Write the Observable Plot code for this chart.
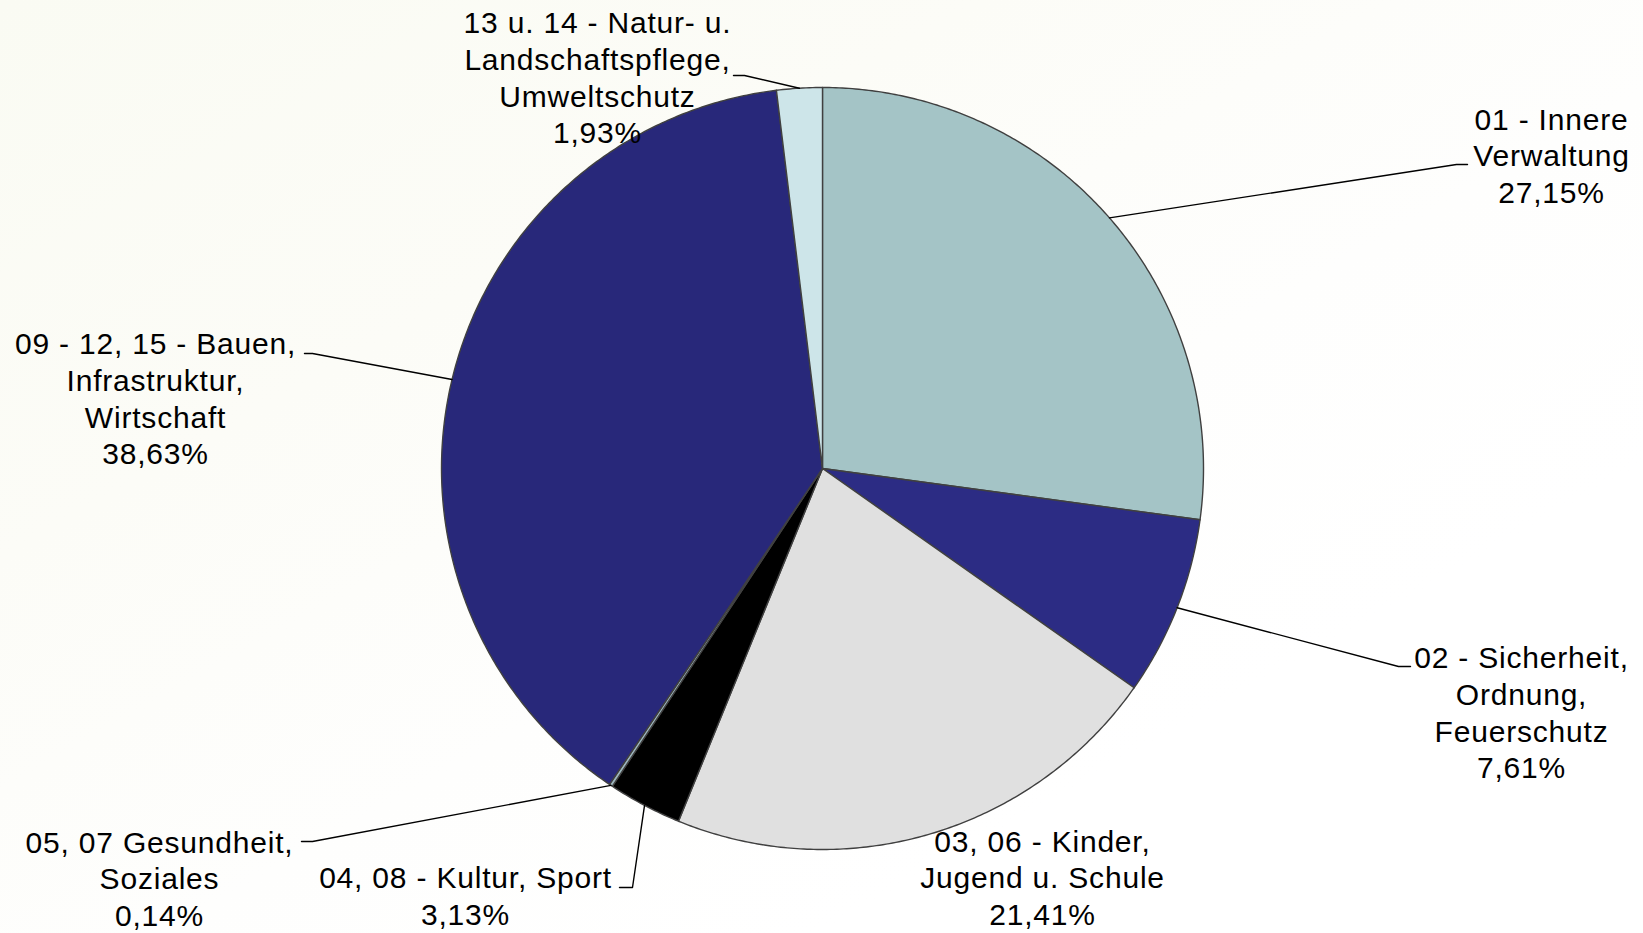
<!DOCTYPE html>
<html>
<head>
<meta charset="utf-8">
<script src="https://cdn.jsdelivr.net/npm/d3@7"></script>
<script src="https://cdn.jsdelivr.net/npm/@observablehq/plot@0.6"></script>
<style>
  html, body { margin: 0; padding: 0; width: 1643px; height: 933px; overflow: hidden;
    background: linear-gradient(to bottom right, #fafbf3 0%, #fcfcf7 30%, #fefefd 55%, #ffffff 75%); }
  #chart svg { display: block; }
</style>
</head>
<body>
<div id="chart"></div>
<script>
// ---- data ----
const categories = [
  "01 - Innere Verwaltung",
  "02 - Sicherheit, Ordnung, Feuerschutz",
  "03, 06 - Kinder, Jugend u. Schule",
  "04, 08 - Kultur, Sport",
  "05, 07 Gesundheit, Soziales",
  "09 - 12, 15 - Bauen, Infrastruktur, Wirtschaft",
  "13 u. 14 - Natur- u. Landschaftspflege, Umweltschutz"
];
const labelLines = [
  "01 - Innere\nVerwaltung",
  "02 - Sicherheit,\nOrdnung,\nFeuerschutz",
  "03, 06 - Kinder,\nJugend u. Schule",
  "04, 08 - Kultur, Sport",
  "05, 07 Gesundheit,\nSoziales",
  "09 - 12, 15 - Bauen,\nInfrastruktur,\nWirtschaft",
  "13 u. 14 - Natur- u.\nLandschaftspflege,\nUmweltschutz"
];
const values = [27.15, 7.61, 21.41, 3.13, 0.14, 38.63, 1.93];
const colors = ["#a4c4c6", "#2c2c84", "#e0e0e0", "#000000", "#9db6bd", "#28287a", "#cde5e9"];

// ---- layout (pixels) ----
const W = 1643, H = 933, CX = 822, CY = 468, R = 381;
const labelPos = [[1551, 154], [1521, 711], [1042, 876], [465, 894], [159, 877], [155, 397], [597, 76]];
const elbows = [
  [[1456, 164], [1467, 164]],
  [[1398, 666], [1410, 666]],
  null,
  [[632, 887], [619, 887]],
  [[312, 841], [301, 841]],
  [[312, 353], [304, 353]],
  [[744, 75], [733, 75]]
];
const toX = px => (px - CX) / R;
const toY = py => (CY - py) / R;

const arcs = d3.pie().sort(null).value(d => d)(values);

const sliceMarks = arcs.map((a, i) => {
  const n = Math.max(2, Math.ceil((a.endAngle - a.startAngle) / (Math.PI / 360)));
  const pts = [{x: 0, y: 0}];
  for (let k = 0; k <= n; k++) {
    const t = a.startAngle + (a.endAngle - a.startAngle) * k / n;
    pts.push({x: Math.sin(t), y: Math.cos(t)});
  }
  return Plot.line(pts, {
    x: "x", y: "y", fill: colors[i], stroke: "#404040", strokeWidth: 1.4,
    curve: "linear-closed", strokeLinejoin: "round"
  });
});

const leaderPts = [];
arcs.forEach((a, i) => {
  if (!elbows[i]) return;
  const m = (a.startAngle + a.endAngle) / 2;
  leaderPts.push({i, x: Math.sin(m), y: Math.cos(m)});
  for (const [px, py] of elbows[i]) leaderPts.push({i, x: toX(px), y: toY(py)});
});

const labels = values.map((v, i) => ({
  x: toX(labelPos[i][0]),
  y: toY(labelPos[i][1]),
  text: labelLines[i] + "\n" + v.toFixed(2).replace(".", ",") + "%"
}));

const chart = Plot.plot({
  width: W, height: H,
  margin: 0,
  x: {domain: [toX(0), toX(W)], axis: null},
  y: {domain: [toY(H), toY(0)], axis: null},
  style: "background: transparent; letter-spacing: 0.8px; font-family: 'Liberation Sans', Arial, sans-serif;",
  marks: [
    ...sliceMarks,
    Plot.line(leaderPts, {x: "x", y: "y", z: "i", stroke: "#000", strokeWidth: 1.4}),
    Plot.text(labels, {
      x: "x", y: "y", text: "text", fontSize: 30, lineHeight: 1.22,
      lineAnchor: "middle", textAnchor: "middle", fill: "#000",
      fontFamily: "'Liberation Sans', Arial, sans-serif"
    })
  ]
});
document.getElementById("chart").appendChild(chart);
</script>
</body>
</html>
